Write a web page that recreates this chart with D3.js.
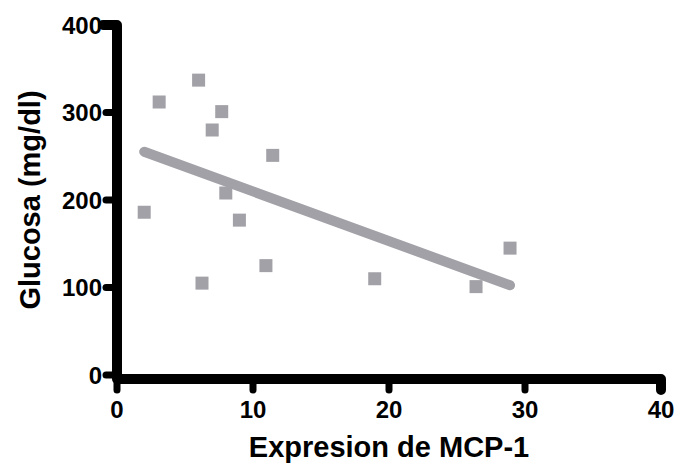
<!DOCTYPE html>
<html>
<head>
<meta charset="utf-8">
<script src="https://cdn.jsdelivr.net/npm/d3@7"></script>
<style>
  body { margin: 0; background: #fff; }
  text { font-family: "Liberation Sans", Arial, sans-serif; font-weight: bold; fill: #000; }
</style>
</head>
<body>
<svg id="chart" width="678" height="463"></svg>
<script>
// MCP-1 expression vs glucose (mg/dl)
const mcp1 = [6.0, 3.1, 7.7, 7.0, 11.45, 8.0, 2.0, 9.0, 10.95, 6.25, 18.95, 28.9, 26.4];
const glucosa = [337, 312, 301, 280, 251, 208, 186, 177, 125, 105, 110, 145, 101];
const xTicks = [0, 10, 20, 30, 40];
const yTicks = [0, 100, 200, 300, 400];

const gray = "#a2a1a7";
const svg = d3.select("#chart");

const x = d3.scaleLinear().domain([0, 40]).range([117, 661]);
const y = d3.scaleLinear().domain([0, 400]).range([375, 25]);
const axisY = y(0) + 4; // thick x axis sits just under zero

// least squares fit
const mx = d3.mean(mcp1), my = d3.mean(glucosa);
let sxy = 0, sxx = 0;
mcp1.forEach((v, i) => { sxy += (v - mx) * (glucosa[i] - my); sxx += (v - mx) * (v - mx); });
const slope = sxy / sxx, icpt = my - slope * mx;
const [x0, x1] = d3.extent(mcp1);

svg.append("line")
  .attr("x1", x(x0)).attr("y1", y(icpt + slope * x0))
  .attr("x2", x(x1)).attr("y2", y(icpt + slope * x1))
  .attr("stroke", gray)
  .attr("stroke-width", 10)
  .attr("stroke-linecap", "round");

const sq = 13;
svg.selectAll("rect.pt")
  .data(mcp1.map((v, i) => [v, glucosa[i]]))
  .join("rect")
  .attr("class", "pt")
  .attr("x", d => x(d[0]) - sq / 2)
  .attr("y", d => y(d[1]) - sq / 2)
  .attr("width", sq)
  .attr("height", sq)
  .attr("fill", gray);

// axes: one path so the corners join round
const p = d3.path();
p.moveTo(x(0) - 14, y(400));
p.lineTo(x(0), y(400));
p.lineTo(x(0), axisY);
p.lineTo(x(40), axisY);
p.lineTo(x(40), axisY + 11);
svg.append("path")
  .attr("d", p.toString())
  .attr("fill", "none")
  .attr("stroke", "#000")
  .attr("stroke-width", 10)
  .attr("stroke-linejoin", "round")
  .attr("stroke-linecap", "round");

svg.selectAll("line.yt")
  .data(yTicks)
  .join("line")
  .attr("class", "yt")
  .attr("x1", x(0)).attr("x2", x(0) - 11)
  .attr("y1", d => y(d)).attr("y2", d => y(d))
  .attr("stroke", "#000").attr("stroke-width", 7).attr("stroke-linecap", "round");

svg.selectAll("line.xt")
  .data(xTicks)
  .join("line")
  .attr("class", "xt")
  .attr("x1", d => x(d)).attr("x2", d => x(d))
  .attr("y1", axisY).attr("y2", axisY + 11)
  .attr("stroke", "#000").attr("stroke-width", 7).attr("stroke-linecap", "round");

svg.selectAll("text.yl")
  .data(yTicks)
  .join("text")
  .attr("class", "yl")
  .attr("x", 102)
  .attr("y", d => y(d))
  .attr("dy", "0.36em")
  .attr("text-anchor", "end")
  .attr("font-size", 24)
  .text(d => d);

svg.selectAll("text.xl")
  .data(xTicks)
  .join("text")
  .attr("class", "xl")
  .attr("x", d => x(d))
  .attr("y", 418)
  .attr("text-anchor", "middle")
  .attr("font-size", 24)
  .text(d => d);

svg.append("text")
  .attr("x", (x(0) + x(40)) / 2)
  .attr("y", 457)
  .attr("text-anchor", "middle")
  .attr("font-size", 29)
  .text("Expresion de MCP-1");

svg.append("text")
  .attr("transform", `translate(40,${(y(0) + y(400)) / 2}) rotate(-90)`)
  .attr("text-anchor", "middle")
  .attr("font-size", 29)
  .text("Glucosa (mg/dl)");
</script>
</body>
</html>
